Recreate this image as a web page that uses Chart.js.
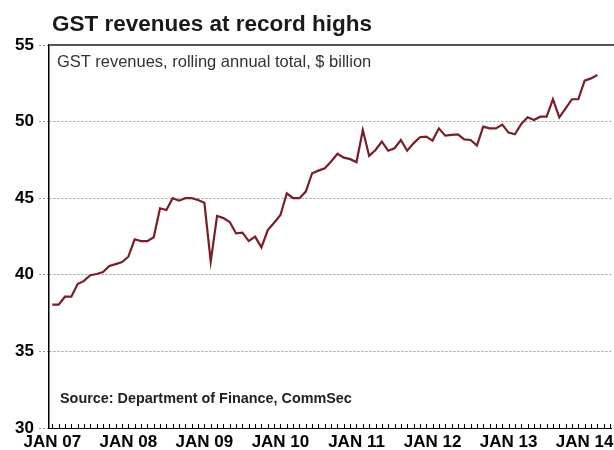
<!DOCTYPE html>
<html>
<head>
<meta charset="utf-8">
<script src="https://cdn.jsdelivr.net/npm/chart.js@4"></script>
<style>
  body { margin: 0; background: #fff; }
  #wrap { position: relative; width: 614px; height: 450px; overflow: hidden; font-family: 'Liberation Sans', Arial, sans-serif; }
  #title { position: absolute; left: 52px; top: 13px; font-size: 22.5px; line-height: 22px; font-weight: bold; color: #1a1a1a; white-space: nowrap; }
  #sub { position: absolute; left: 57px; top: 53px; font-size: 16.5px; line-height: 16px; color: #333; white-space: nowrap; }
  #src { position: absolute; left: 60px; top: 391px; font-size: 14.4px; line-height: 14px; font-weight: bold; color: #222; white-space: nowrap; }
</style>
</head>
<body>
<div id="wrap">
  <canvas id="myChart"></canvas>
  <div id="title">GST revenues at record highs</div>
  <div id="sub">GST revenues, rolling annual total, $ billion</div>
  <div id="src">Source: Department of Finance, CommSec</div>
</div>
<script>
// monthly, Jan 2007 .. Mar 2014, $ billion
const gst = [
  38.05, 38.05, 38.57, 38.57, 39.4, 39.6, 39.97, 40.05, 40.18, 40.57, 40.7, 40.83,
  41.18, 42.32, 42.2, 42.2, 42.45, 44.34, 44.23, 45.0, 44.84, 45.0, 45.0, 44.88,
  44.7, 40.86, 43.84, 43.7, 43.45, 42.7, 42.75, 42.2, 42.49, 41.79, 42.92, 43.4,
  43.9, 45.32, 45.0, 45.0, 45.43, 46.63, 46.8, 46.95, 47.4, 47.9, 47.65, 47.55,
  47.36, 49.45, 47.76, 48.15, 48.69, 48.1, 48.26, 48.8, 48.1, 48.58, 48.98, 49.02,
  48.76, 49.56, 49.08, 49.13, 49.17, 48.84, 48.8, 48.43, 49.67, 49.56, 49.56, 49.8,
  49.28, 49.17, 49.85, 50.28, 50.1, 50.32, 50.32, 51.46, 50.28, 50.87, 51.46, 51.46,
  52.67, 52.82, 53.04
];
const xTickLabels = ['JAN 07', 'JAN 08', 'JAN 09', 'JAN 10', 'JAN 11', 'JAN 12', 'JAN 13', 'JAN 14'];
const yTicks = [30, 35, 40, 45, 50, 55];

const monthIdx = gst.map((v, i) => i);

// small month ticks on the base line + dark top frame
const frame = {
  id: 'frame',
  afterDraw(chart) {
    const c = chart.ctx, a = chart.chartArea, x = chart.scales.x;
    c.save();
    c.strokeStyle = '#000';
    c.lineWidth = 1;
    c.beginPath();
    for (let i = 0; i <= 88; i++) {
      const px = Math.round(x.getPixelForValue(i)) + 0.5;
      c.moveTo(px, a.bottom);
      c.lineTo(px, a.bottom - 4);
    }
    c.stroke();
    c.strokeStyle = '#555';
    c.lineWidth = 2;
    c.beginPath();
    c.moveTo(a.left, a.top);
    c.lineTo(614, a.top);
    c.stroke();
    c.restore();
  }
};

new Chart(document.getElementById('myChart'), {
  type: 'line',
  data: {
    labels: monthIdx,
    datasets: [{
      label: 'GST revenues',
      data: gst.map((v, i) => ({x: monthIdx[i], y: v})),
      borderColor: '#7b1d27',
      backgroundColor: '#7b1d27',
      borderWidth: 2.2,
      pointRadius: 0,
      tension: 0
    }]
  },
  options: {
    responsive: true,
    maintainAspectRatio: false,
    animation: false,
    layout: { padding: { top: 45, left: 0, right: -3, bottom: 0 } },
    plugins: {
      legend: { display: false },
      tooltip: { enabled: false }
    },
    scales: {
      x: {
        type: 'linear',
        min: -0.52,
        max: 88.2,
        afterFit: s => { s.height = 22; },
        grid: { display: false, drawTicks: false },
        border: { display: true, color: '#000', width: 1 },
        ticks: {
          stepSize: 1,
          autoSkip: false,
          includeBounds: false,
          maxRotation: 0,
          padding: 4,
          color: '#000',
          font: { family: "'Liberation Sans', Arial", size: 17, weight: 'bold' },
          callback: v => (v % 12 === 0 ? xTickLabels[v / 12] : '')
        }
      },
      y: {
        min: yTicks[0],
        max: yTicks[yTicks.length - 1],
        afterFit: s => { s.width = 49; },
        afterBuildTicks: s => { s.ticks = yTicks.map(v => ({value: v})); },
        grid: {
          color: c => (c.tick && c.tick.value === 55 ? 'rgba(0,0,0,0)' : '#9a9a9a'),
          tickColor: '#9a9a9a',
          tickLength: 10,
          tickBorderDash: [2, 2],
          lineWidth: 1
        },
        border: { display: true, color: '#000', width: 1.5, dash: [2, 2] },
        ticks: {
          padding: 5,
          color: '#000',
          font: { family: "'Liberation Sans', Arial", size: 17, weight: 'bold' }
        }
      }
    }
  },
  plugins: [frame]
});
</script>
</body>
</html>
